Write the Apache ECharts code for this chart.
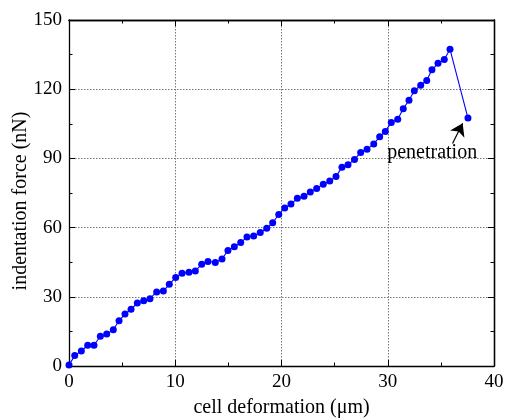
<!DOCTYPE html>
<html>
<head>
<meta charset="utf-8">
<script src="https://cdn.jsdelivr.net/npm/echarts@6/dist/echarts.min.js"></script>
<style>
html,body{margin:0;padding:0;background:#fff;}
#chart{width:505px;height:418px;}
</style>
</head>
<body>
<div id="chart"></div>
<script>
// Data
var deformation = [0, 0.54, 1.16, 1.76, 2.35, 2.95, 3.55, 4.17, 4.71, 5.27, 5.84, 6.43, 7.03, 7.62, 8.25, 8.88, 9.44, 10.04, 10.64, 11.29, 11.89, 12.49, 13.08, 13.77, 14.40, 14.96, 15.56, 16.16, 16.75, 17.38, 18.0, 18.61, 19.17, 19.74, 20.3, 20.89, 21.49, 22.12, 22.71, 23.31, 23.93, 24.54, 25.13, 25.69, 26.26, 26.87, 27.45, 28.05, 28.68, 29.24, 29.77, 30.33, 30.94, 31.46, 32.0, 32.5, 33.1, 33.67, 34.16, 34.73, 35.32, 35.86, 37.55];
var force = [0.4, 4.5, 6.5, 9.0, 9.0, 12.9, 13.9, 15.7, 19.6, 22.5, 24.6, 27.3, 28.3, 29.2, 32.1, 32.5, 35.4, 38.4, 40.2, 40.6, 41.2, 44.1, 45.3, 44.9, 46.4, 50.1, 51.7, 53.5, 55.9, 56.4, 57.9, 59.7, 62.1, 65.7, 68.5, 70.2, 72.7, 73.6, 75.4, 77.0, 78.8, 80.2, 82.1, 86.2, 87.3, 89.5, 92.6, 94.0, 96.2, 99.4, 101.7, 105.6, 107.0, 111.5, 115.2, 119.3, 121.7, 123.8, 128.4, 131.2, 132.9, 137.3, 107.5];
var xTicks = [0, 10, 20, 30, 40];
var yTicks = [0, 30, 60, 90, 120, 150];
var xMinorStep = 5;
var yMinorStep = 15;
var annotationText = 'penetration';
var annotationPos = [29.95, 92.8];
var arrowFrom = [36.1, 96.5];
var arrowTo = [37.05, 105.2];

var points = deformation.map(function (x, i) { return [x, force[i]]; });

var FONT = "'Liberation Serif', 'Times New Roman', serif";
var xMin = xTicks[0], xMax = xTicks[xTicks.length - 1];
var yMin = yTicks[0], yMax = yTicks[yTicks.length - 1];
var axisLineStyle = { color: '#000', width: 1.3 };
var gridLine = { show: true, lineStyle: { color: '#777', type: [1.5, 1.5], width: 1 } };
var majorTick = { show: true, inside: true, length: 6, lineStyle: { color: '#000', width: 1 } };
var minorTickStyle = { show: true, inside: true, length: 3.5, lineStyle: { color: '#000', width: 1 } };
var labelRich = { t: { fontFamily: FONT, fontSize: 19, color: '#000' } };

function tickOnlyAxis(base, pos, interval, tick) {
  return Object.assign({}, base, {
    position: pos, interval: interval,
    axisLine: { show: pos === 'top' || pos === 'right', onZero: false, lineStyle: axisLineStyle },
    axisTick: tick,
    axisLabel: { show: false },
    splitLine: { show: false }
  });
}

var xBase = { type: 'value', min: xMin, max: xMax };
var yBase = { type: 'value', min: yMin, max: yMax };

var chart = echarts.init(document.getElementById('chart'), null, { renderer: 'canvas' });
var option = {
  animation: false,
  backgroundColor: '#fff',
  textStyle: { fontFamily: FONT, color: '#000' },
  grid: { left: 69, top: 20, right: 11, bottom: 52, containLabel: false, outerBoundsMode: 'none' },
  xAxis: [
    Object.assign({}, xBase, {
      position: 'bottom', interval: 10,
      name: 'cell deformation (\u03bcm)', nameLocation: 'middle', nameGap: 32, nameMoveOverlap: false,
      nameTextStyle: { fontFamily: FONT, fontSize: 20, color: '#000' },
      axisLine: { show: true, onZero: false, lineStyle: axisLineStyle },
      axisTick: majorTick,
      axisLabel: { margin: 7, formatter: '{t|{value}}', rich: labelRich, fontFamily: FONT, fontSize: 19 },
      splitLine: gridLine
    }),
    tickOnlyAxis(xBase, 'bottom', xMinorStep, minorTickStyle),
    tickOnlyAxis(xBase, 'top', 10, majorTick),
    tickOnlyAxis(xBase, 'top', xMinorStep, minorTickStyle)
  ],
  yAxis: [
    Object.assign({}, yBase, {
      position: 'left', interval: 30,
      name: 'indentation force (nN)', nameLocation: 'middle', nameGap: 38, nameRotate: 90, nameMoveOverlap: false,
      nameTextStyle: { fontFamily: FONT, fontSize: 20, color: '#000', padding: [0, 16, 0, 0] },
      axisLine: { show: true, onZero: false, lineStyle: axisLineStyle },
      axisTick: majorTick,
      axisLabel: { margin: 7, formatter: '{t|{value}}', rich: labelRich, fontFamily: FONT, fontSize: 19 },
      splitLine: gridLine
    }),
    tickOnlyAxis(yBase, 'left', yMinorStep, minorTickStyle),
    tickOnlyAxis(yBase, 'right', 30, majorTick),
    tickOnlyAxis(yBase, 'right', yMinorStep, minorTickStyle)
  ],
  series: [{
    type: 'line',
    xAxisIndex: 0, yAxisIndex: 0,
    data: points,
    symbol: 'circle', symbolSize: 7,
    showSymbol: true,
    lineStyle: { color: '#0000ff', width: 1.1 },
    itemStyle: { color: '#0000ff' },
    clip: false,
    z: 5,
    markLine: {
      silent: true,
      symbol: ['none', 'arrow'],
      symbolSize: 12,
      label: { show: false },
      lineStyle: { color: '#000', width: 1.2, type: 'solid' },
      data: [[{ coord: arrowFrom }, { coord: arrowTo }]]
    }
  }]
};
chart.setOption(option);

var p = chart.convertToPixel({ xAxisIndex: 0, yAxisIndex: 0 }, annotationPos);
chart.setOption({
  graphic: [{
    type: 'text', left: p[0], top: p[1] - 9, z: 100,
    style: { text: annotationText, fontFamily: FONT, fontSize: 20, fill: '#000' }
  }]
});
</script>
</body>
</html>
